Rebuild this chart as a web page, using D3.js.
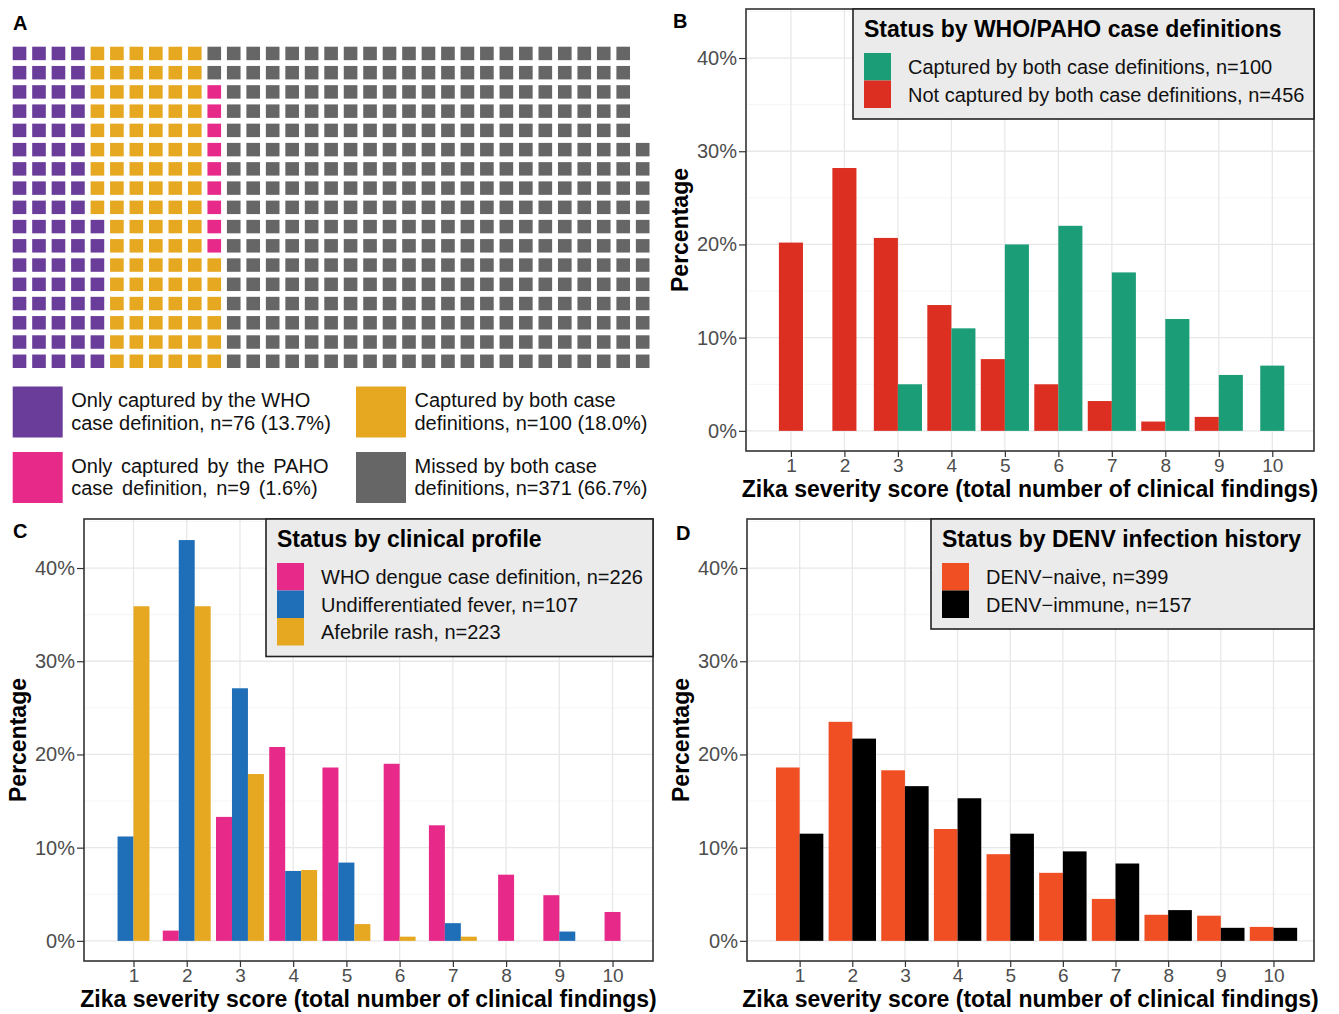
<!DOCTYPE html>
<html>
<head>
<meta charset="utf-8">
<script src="https://d3js.org/d3.v7.min.js"></script>
<style>
  body { margin: 0; background: #fff; }
  svg { font-family: "Liberation Sans", Arial, sans-serif; display: block; }
  .tick text { fill: #4d4d4d; }
  .tick line { stroke: #333; stroke-width: 1.2; }
  .domain { display: none; }
</style>
</head>
<body>
<script>
// ---- panel A: waffle of all 556 cases
var waffleGroups = ["WHO only", "Both", "PAHO only", "Missed"];
var waffleCounts = [76, 100, 9, 371];
var waffleColors = ["#6a3d9a", "#e6a820", "#e7298a", "#666666"];
var waffleText = [
  ["Only captured by the WHO", "case definition, n=76 (13.7%)"],
  ["Captured by both case", "definitions, n=100 (18.0%)"],
  ["Only captured by the PAHO", "case definition, n=9 (1.6%)"],
  ["Missed by both case", "definitions, n=371 (66.7%)"]
];
var waffleRows = 17;

// ---- bar panels, percentage of each group by severity score
var scores = [1, 2, 3, 4, 5, 6, 7, 8, 9, 10];
var yTicks = [0, 10, 20, 30, 40];

// B
var capturedBoth = [null, null, 5, 11, 20, 22, 17, 12, 6, 7];
var notCapturedBoth = [20.2, 28.2, 20.7, 13.5, 7.7, 5.0, 3.2, 1.0, 1.5, null];
// C
var whoDengue = [null, 1.1, 13.3, 20.8, 18.6, 19.0, 12.4, 7.1, 4.9, 3.1];
var undiffFever = [11.2, 43.0, 27.1, 7.5, 8.4, null, 1.9, null, 1.0, null];
var afebrileRash = [35.9, 35.9, 17.9, 7.6, 1.8, 0.45, 0.45, null, null, null];
// D
var denvNaive = [18.6, 23.5, 18.3, 12.0, 9.3, 7.3, 4.5, 2.8, 2.7, 1.5];
var denvImmune = [11.5, 21.7, 16.6, 15.3, 11.5, 9.6, 8.3, 3.3, 1.4, 1.4];

var svg = d3.select("body").append("svg")
    .attr("width", 1339)
    .attr("height", 1014);

// panel letters
[["A", 13, 30], ["B", 673, 28], ["C", 13, 538], ["D", 676, 540]].forEach(function(l) {
  svg.append("text").attr("x", l[1]).attr("y", l[2])
    .attr("font-size", 20).attr("font-weight", "bold").text(l[0]);
});

// ---------- waffle, filled column by column from the bottom
var cells = [];
waffleCounts.forEach(function(n, gi) {
  for (var k = 0; k < n; k++) cells.push(gi);
});
var nCols = Math.ceil(cells.length / waffleRows);
var wx = d3.scaleBand().domain(d3.range(nCols)).range([12.7, 649.5]).paddingInner(0.3);
var wy = d3.scaleBand().domain(d3.range(waffleRows)).range([46.7, 368]).paddingInner(0.3);

svg.append("g").selectAll("rect")
  .data(cells)
  .enter().append("rect")
  .attr("x", function(d, i) { return wx(Math.floor(i / waffleRows)); })
  .attr("y", function(d, i) { return wy(waffleRows - 1 - i % waffleRows); })
  .attr("width", wx.bandwidth())
  .attr("height", wy.bandwidth())
  .attr("fill", function(d) { return waffleColors[d]; });

// waffle legend, 2 x 2
var wl = svg.append("g").selectAll("g")
  .data(waffleGroups)
  .enter().append("g")
  .attr("transform", function(d, i) {
    return "translate(" + (i % 2 === 0 ? 12.7 : 356) + "," + (i < 2 ? 386.5 : 452) + ")";
  });
wl.append("rect")
  .attr("width", 50).attr("height", 51)
  .attr("fill", function(d, i) { return waffleColors[i]; });
wl.each(function(d, i) {
  var g = d3.select(this);
  waffleText[i].forEach(function(line, j) {
    g.append("text")
      .attr("x", 58.5).attr("y", 20.5 + j * 22.5)
      .attr("font-size", 20)
      .attr("word-spacing", i === 2 ? 3 : 0)
      .attr("fill", "#111")
      .text(line);
  });
});

// ---------- bar panels
function barPanel(opt) {
  var g = svg.append("g");
  var x = d3.scaleLinear().domain(opt.xDomain).range([opt.left, opt.right]);
  var y = d3.scaleLinear().domain([-2.16, 45.26]).range([opt.bottom, opt.top]);

  // grid
  g.selectAll(".minor").data([5, 15, 25, 35, 45]).enter().append("line")
    .attr("x1", opt.left).attr("x2", opt.right)
    .attr("y1", y).attr("y2", y)
    .attr("stroke", "#f3f3f3").attr("stroke-width", 0.8);
  g.selectAll(".major").data(yTicks).enter().append("line")
    .attr("x1", opt.left).attr("x2", opt.right)
    .attr("y1", y).attr("y2", y)
    .attr("stroke", "#e8e8e8").attr("stroke-width", 1.3);
  g.selectAll(".vmajor").data(scores).enter().append("line")
    .attr("y1", opt.top).attr("y2", opt.bottom)
    .attr("x1", x).attr("x2", x)
    .attr("stroke", "#e8e8e8").attr("stroke-width", 1.3);

  // bars, dodged and centred on the score (only groups present)
  var w = 0.9 / opt.series.length;
  var bars = [];
  scores.forEach(function(s, i) {
    var present = opt.series.filter(function(se) { return se.values[i] != null; });
    present.forEach(function(se, j) {
      bars.push({ x0: s - present.length * w / 2 + j * w, v: se.values[i], color: se.color });
    });
  });
  g.selectAll(".bar").data(bars).enter().append("rect")
    .attr("x", function(d) { return x(d.x0); })
    .attr("width", function(d) { return x(d.x0 + w) - x(d.x0); })
    .attr("y", function(d) { return y(d.v); })
    .attr("height", function(d) { return y(0) - y(d.v); })
    .attr("fill", function(d) { return d.color; });

  // axes
  g.append("g")
    .attr("transform", "translate(0," + opt.bottom + ")")
    .attr("font-size", 19)
    .call(d3.axisBottom(x).tickValues(scores).tickSize(6).tickPadding(2).tickFormat(d3.format("d")))
    .selectAll("text").attr("font-size", 19);
  g.append("g")
    .attr("transform", "translate(" + opt.left + ",0)")
    .call(d3.axisLeft(y).tickValues(yTicks).tickSize(7).tickPadding(2)
      .tickFormat(function(d) { return d + "%"; }))
    .selectAll("text").attr("font-size", 20);

  // border
  g.append("rect")
    .attr("x", opt.left).attr("y", opt.top)
    .attr("width", opt.right - opt.left).attr("height", opt.bottom - opt.top)
    .attr("fill", "none").attr("stroke", "#333").attr("stroke-width", 1.6);

  // axis titles
  g.append("text")
    .attr("x", (opt.left + opt.right) / 2).attr("y", opt.bottom + 46)
    .attr("text-anchor", "middle").attr("font-size", 23).attr("font-weight", "bold")
    .text("Zika severity score (total number of clinical findings)");
  g.append("text")
    .attr("transform", "translate(" + (opt.left - 58) + "," + ((opt.top + opt.bottom) / 2) + ") rotate(-90)")
    .attr("text-anchor", "middle").attr("font-size", 23).attr("font-weight", "bold")
    .text("Percentage");

  // legend box in the top-right corner
  var lg = g.append("g").attr("transform", "translate(" + opt.legendX + "," + opt.top + ")");
  var lw = opt.right - opt.legendX;
  var lh = 45 + opt.legendOrder.length * 27.5 + 10;
  lg.append("rect").attr("width", lw).attr("height", lh)
    .attr("fill", "#ebebeb").attr("stroke", "#222").attr("stroke-width", 1.6);
  lg.append("text").attr("x", 11).attr("y", 28)
    .attr("font-size", 23).attr("font-weight", "bold").text(opt.title);
  var items = lg.selectAll(".item").data(opt.legendOrder).enter().append("g")
    .attr("transform", function(d, i) { return "translate(11," + (44 + i * 27.5) + ")"; });
  items.append("rect").attr("width", 27).attr("height", 27.5)
    .attr("fill", function(d) { return opt.series[d].color; });
  items.append("text").attr("x", 44).attr("y", 21)
    .attr("font-size", 20).attr("fill", "#111")
    .text(function(d) { return opt.series[d].label; });
}

barPanel({
  left: 746, right: 1314, top: 9, bottom: 451, xDomain: [0.16, 10.78],
  legendX: 853, legendOrder: [1, 0],
  title: "Status by WHO/PAHO case definitions",
  series: [
    { values: notCapturedBoth, color: "#dc2f22", label: "Not captured by both case definitions, n=456" },
    { values: capturedBoth, color: "#1b9e77", label: "Captured by both case definitions, n=100" }
  ]
});

barPanel({
  left: 84, right: 653, top: 519, bottom: 961, xDomain: [0.07, 10.76],
  legendX: 266, legendOrder: [0, 1, 2],
  title: "Status by clinical profile",
  series: [
    { values: whoDengue, color: "#e7298a", label: "WHO dengue case definition, n=226" },
    { values: undiffFever, color: "#1f6fb8", label: "Undifferentiated fever, n=107" },
    { values: afebrileRash, color: "#e6a820", label: "Afebrile rash, n=223" }
  ]
});

barPanel({
  left: 747, right: 1314, top: 519, bottom: 961, xDomain: [0.0, 10.77],
  legendX: 931, legendOrder: [0, 1],
  title: "Status by DENV infection history",
  series: [
    { values: denvNaive, color: "#f04e23", label: "DENV\u2212naive, n=399" },
    { values: denvImmune, color: "#000000", label: "DENV\u2212immune, n=157" }
  ]
});
</script>
</body>
</html>
